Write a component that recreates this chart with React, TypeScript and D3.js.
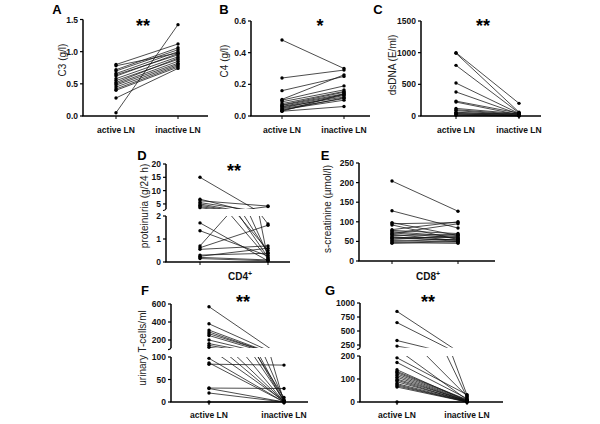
import React from 'react';
import * as d3 from 'd3';

const CATS = ['active LN', 'inactive LN'];

// Panel A: C3 (g/l)
const aActive = [0.80, 0.78, 0.72, 0.70, 0.66, 0.64, 0.62, 0.58, 0.55, 0.52, 0.50, 0.48, 0.45, 0.42, 0.40, 0.28, 0.05];
const aInactive = [1.12, 0.98, 1.06, 1.03, 1.00, 0.95, 0.97, 0.92, 0.88, 0.90, 0.85, 0.82, 0.80, 0.78, 0.76, 0.74, 1.42];
const aTicks = [0, 0.5, 1.0, 1.5];

// Panel B: C4 (g/l)
const bActive = [0.48, 0.24, 0.16, 0.105, 0.10, 0.09, 0.078, 0.07, 0.067, 0.06, 0.057, 0.05, 0.046, 0.04, 0.036, 0.03, 0.03];
const bInactive = [0.30, 0.29, 0.25, 0.26, 0.19, 0.165, 0.155, 0.15, 0.14, 0.135, 0.12, 0.13, 0.11, 0.10, 0.115, 0.06, 0.14];
const bTicks = [0, 0.2, 0.4, 0.6];

// Panel C: dsDNA (E/ml)
const cActive = [1000, 990, 800, 520, 380, 235, 220, 120, 100, 85, 60, 50, 40, 30, 20, 10];
const cInactive = [200, 60, 50, 40, 30, 45, 20, 35, 25, 15, 10, 30, 5, 10, 5, 0];
const cTicks = [0, 500, 1000, 1500];

// Panel D: proteinuria (g/24 h), broken axis
const dActive = [15, 6.8, 6.2, 5.5, 5.0, 4.5, 4.0, 3.6, 1.7, 1.36, 0.7, 0.62, 0.55, 0.3, 0.25, 0.2, 0.15];
const dInactive = [0.1, 0.3, 4.2, 1.65, 0.4, 0.2, 0.5, 0.15, 0.05, 0.26, 4.0, 1.6, 0.7, 0.38, 0.6, 0.09, 0.05];
const dTicksLow = [0, 1, 2];
const dTicksHigh = [5, 10, 15, 20];

// Panel E: s-creatinine (µmol/l)
const eActive = [204, 128, 98, 95, 92, 80, 78, 75, 72, 70, 68, 65, 62, 60, 58, 55, 52, 50, 47, 45];
const eInactive = [127, 84, 65, 98, 55, 100, 70, 62, 58, 95, 52, 68, 50, 60, 54, 65, 48, 56, 45, 50];
const eTicks = [0, 50, 100, 150, 200, 250];

// Panel F: urinary T-cells/ml (CD4+), broken axis
const fActive = [570, 380, 310, 290, 270, 250, 200, 160, 140, 120, 97, 87, 84, 31, 30, 20, 0];
const fInactive = [0, 5, 2, 0, 10, 3, 0, 1, 0, 2, 0, 0, 82, 30, 0, 0, 0];
const fTicksLow = [0, 50, 100];
const fTicksHigh = [200, 400, 600];

// Panel G: urinary T-cells/ml (CD8+), broken axis
const gActive = [850, 650, 330, 230, 192, 172, 140, 133, 128, 122, 115, 108, 100, 95, 88, 80, 75, 70, 65, 0];
const gInactive = [30, 20, 25, 10, 32, 15, 5, 10, 8, 5, 3, 2, 5, 0, 3, 2, 0, 1, 0, 0];
const gTicksLow = [0, 100, 200];
const gTicksHigh = [250, 500, 750, 1000];

type Seg = { domain: [number, number]; range: [number, number]; ticks: number[] };

interface PanelCfg {
  id: string;
  letter: string;
  letterX: number;
  letterY: number;
  axisX: number;
  catX: [number, number];
  xEnd: number;
  segs: Seg[]; // lower first
  active: number[];
  inactive: number[];
  fmt: (v: number) => string;
  title?: string;
  titleX?: number;
  titleY?: number;
  sig: string;
  sigX: number;
  sigY: number;
  showCats: boolean;
  catY: number;
}

const FONT = 'Liberation Sans, Arial, Helvetica, sans-serif';

function Panel({ cfg }: { cfg: PanelCfg }) {
  const x = d3.scalePoint<string>().domain(CATS).range(cfg.catX);
  const scales = cfg.segs.map((s) => d3.scaleLinear().domain(s.domain).range(s.range));
  const nSeg = cfg.segs.length;
  const segOf = (v: number) => (nSeg === 1 ? 0 : v <= cfg.segs[0].domain[1] ? 0 : 1);
  const xA = x(CATS[0]) as number;
  const xI = x(CATS[1]) as number;
  const baseY = cfg.segs[0].range[0];

  return (
    <g>
      {nSeg > 1 && (
        <defs>
          {cfg.segs.map((s, i) => {
            const top = i === nSeg - 1 ? s.range[1] - 30 : s.range[1];
            const bot = i === 0 ? s.range[0] + 4 : s.range[0];
            return (
              <clipPath id={`clip-${cfg.id}-${i}`} key={i}>
                <rect x={cfg.axisX} y={top} width={cfg.xEnd - cfg.axisX} height={bot - top} />
              </clipPath>
            );
          })}
        </defs>
      )}
      {/* lines */}
      {cfg.segs.map((s, i) => (
        <g key={i} clipPath={nSeg > 1 ? `url(#clip-${cfg.id}-${i})` : undefined}>
          {cfg.active.map((v, j) => (
            <line
              key={j}
              x1={xA}
              y1={scales[i](v)}
              x2={xI}
              y2={scales[i](cfg.inactive[j])}
              stroke="#111"
              strokeWidth={0.75}
            />
          ))}
        </g>
      ))}
      {/* dots */}
      {cfg.active.map((v, j) => (
        <circle key={'a' + j} cx={xA} cy={scales[segOf(v)](v)} r={1.7} fill="#000" />
      ))}
      {cfg.inactive.map((v, j) => (
        <circle key={'i' + j} cx={xI} cy={scales[segOf(v)](v)} r={1.7} fill="#000" />
      ))}
      {/* y axis segments */}
      {cfg.segs.map((s, i) => (
        <g key={'ax' + i}>
          <line x1={cfg.axisX} x2={cfg.axisX} y1={s.range[0]} y2={s.range[1]} stroke="#000" strokeWidth={1.5} />
          {nSeg > 1 && i === 1 && (
            <path
              d={`M${cfg.axisX},${s.range[0]} q-1,1.5 -3,1.5`}
              fill="none"
              stroke="#000"
              strokeWidth={1.2}
            />
          )}
          {s.ticks.map((t) => (
            <g key={t}>
              <line
                x1={cfg.axisX - 3}
                x2={cfg.axisX}
                y1={scales[i](t)}
                y2={scales[i](t)}
                stroke="#000"
                strokeWidth={1.2}
              />
              <text
                x={cfg.axisX - 5}
                y={scales[i](t) + 3}
                textAnchor="end"
                fontFamily={FONT}
                fontWeight="bold"
                fontSize={8.5}
                fill="#111"
              >
                {cfg.fmt(t)}
              </text>
            </g>
          ))}
        </g>
      ))}
      {/* x axis */}
      <line x1={cfg.axisX - 0.75} x2={cfg.xEnd} y1={baseY} y2={baseY} stroke="#000" strokeWidth={1.5} />
      {CATS.map((c) => (
        <line key={c} x1={x(c)} x2={x(c)} y1={baseY} y2={baseY + 3} stroke="#000" strokeWidth={1} />
      ))}
      {cfg.showCats &&
        CATS.map((c) => (
          <text
            key={'t' + c}
            x={x(c)}
            y={cfg.catY}
            textAnchor="middle"
            fontFamily={FONT}
            fontWeight="bold"
            fontSize={8.5}
            fill="#111"
          >
            {c}
          </text>
        ))}
      {cfg.title && (
        <text
          transform={`translate(${cfg.titleX},${cfg.titleY}) rotate(-90)`}
          textAnchor="middle"
          fontFamily={FONT}
          fontSize={10}
          fill="#222"
        >
          {cfg.title}
        </text>
      )}
      <text x={cfg.letterX} y={cfg.letterY} fontFamily={FONT} fontWeight="bold" fontSize={13} textAnchor="middle" fill="#000">
        {cfg.letter}
      </text>
      <text x={cfg.sigX} y={cfg.sigY} fontFamily={FONT} fontWeight="bold" fontSize={18} textAnchor="middle" fill="#000">
        {cfg.sig}
      </text>
    </g>
  );
}

const f1 = d3.format('.1f');
const f0 = d3.format('d');

const panels: PanelCfg[] = [
  {
    id: 'A', letter: 'A', letterX: 57, letterY: 14, axisX: 83, catX: [116, 178], xEnd: 208,
    segs: [{ domain: [0, 1.5], range: [116, 19.5], ticks: aTicks }],
    active: aActive, inactive: aInactive, fmt: f1,
    title: 'C3 (g/l)', titleX: 66, titleY: 60, sig: '**', sigX: 143, sigY: 32, showCats: true, catY: 133,
  },
  {
    id: 'B', letter: 'B', letterX: 224, letterY: 14, axisX: 251, catX: [282, 344], xEnd: 370,
    segs: [{ domain: [0, 0.6], range: [116, 21], ticks: bTicks }],
    active: bActive, inactive: bInactive, fmt: f1,
    title: 'C4 (g/l)', titleX: 228, titleY: 61, sig: '*', sigX: 320, sigY: 32, showCats: true, catY: 133,
  },
  {
    id: 'C', letter: 'C', letterX: 378, letterY: 14, axisX: 421, catX: [456, 519], xEnd: 541,
    segs: [{ domain: [0, 1500], range: [116, 21], ticks: cTicks }],
    active: cActive, inactive: cInactive, fmt: f0,
    title: 'dsDNA (E/ml)', titleX: 396, titleY: 65, sig: '**', sigX: 483, sigY: 32, showCats: true, catY: 133,
  },
  {
    id: 'D', letter: 'D', letterX: 142, letterY: 160, axisX: 166, catX: [200, 268], xEnd: 290,
    segs: [
      { domain: [0, 2], range: [262, 216], ticks: dTicksLow },
      { domain: [3.1, 20], range: [209, 164], ticks: dTicksHigh },
    ],
    active: dActive, inactive: dInactive, fmt: f0,
    title: 'proteinuria (g/24 h)', titleX: 148, titleY: 206, sig: '**', sigX: 234, sigY: 177, showCats: false, catY: 0,
  },
  {
    id: 'E', letter: 'E', letterX: 325, letterY: 160, axisX: 359, catX: [392, 458], xEnd: 495,
    segs: [{ domain: [0, 250], range: [261, 163], ticks: eTicks }],
    active: eActive, inactive: eInactive, fmt: f0,
    title: 's-creatinine (µmol/l)', titleX: 331, titleY: 209, sig: '', sigX: 0, sigY: 0, showCats: false, catY: 0,
  },
  {
    id: 'F', letter: 'F', letterX: 145, letterY: 295, axisX: 171, catX: [209, 284], xEnd: 308,
    segs: [
      { domain: [0, 100], range: [402, 357], ticks: fTicksLow },
      { domain: [110, 600], range: [348.1, 304], ticks: fTicksHigh },
    ],
    active: fActive, inactive: fInactive, fmt: f0,
    title: 'urinary T-cells/ml', titleX: 146, titleY: 348, sig: '**', sigX: 243, sigY: 308, showCats: true, catY: 418,
  },
  {
    id: 'G', letter: 'G', letterX: 330, letterY: 295, axisX: 360, catX: [397, 467], xEnd: 503,
    segs: [
      { domain: [0, 200], range: [402, 356], ticks: gTicksLow },
      { domain: [200, 1000], range: [347.8, 303], ticks: gTicksHigh },
    ],
    active: gActive, inactive: gInactive, fmt: f0,
    sig: '**', sigX: 428, sigY: 308, showCats: true, catY: 418,
  },
];

export default function App() {
  return (
    <svg
      width={600}
      height={424}
      viewBox="0 0 600 424"
      style={{ position: 'absolute', left: 0, top: 0, background: '#fff' }}
    >
      <rect width={600} height={424} fill="#fff" />
      {panels.map((p) => (
        <Panel key={p.id} cfg={p} />
      ))}
      <text x={240} y={280} textAnchor="middle" fontFamily={FONT} fontWeight="bold" fontSize={10} fill="#111">
        CD4<tspan dy={-4} fontSize={7}>+</tspan>
      </text>
      <text x={428} y={280} textAnchor="middle" fontFamily={FONT} fontWeight="bold" fontSize={10} fill="#111">
        CD8<tspan dy={-4} fontSize={7}>+</tspan>
      </text>
    </svg>
  );
}
